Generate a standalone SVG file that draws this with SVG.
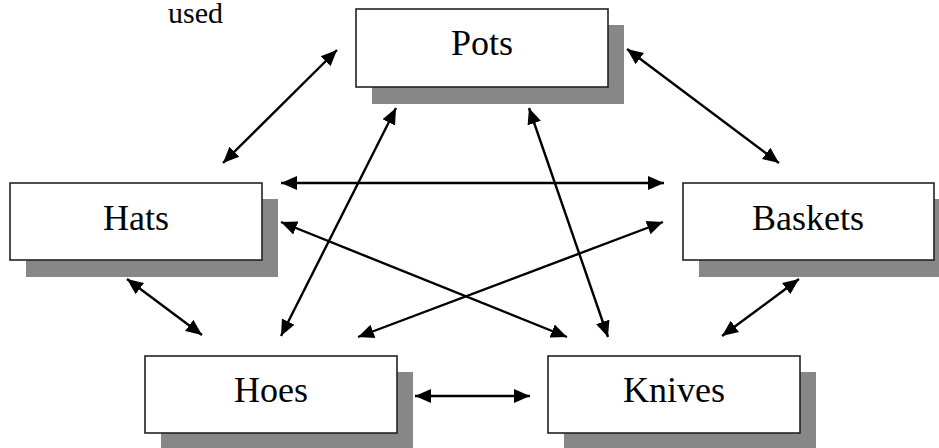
<svg xmlns="http://www.w3.org/2000/svg" width="939" height="448" viewBox="0 0 939 448">
  <style>
    .shadow { fill: #878787; }
    .box { fill: #ffffff; stroke: #222222; stroke-width: 1.6; }
    .label { font-family: 'Liberation Serif', 'Times New Roman', serif; font-size: 36px; fill: #000000; text-anchor: middle; }
    .note { font-family: 'Liberation Serif', 'Times New Roman', serif; font-size: 30px; fill: #000000; }
    .link { stroke: #000000; stroke-width: 2.4; fill: none; marker-start: url(#head); marker-end: url(#head); }
  </style>
  <defs>
    <!-- filled triangular arrowhead, tip at the line end -->
    <marker id="head" markerUnits="userSpaceOnUse" markerWidth="18" markerHeight="16" refX="16" refY="8" orient="auto-start-reverse" viewBox="0 0 18 16">
      <path d="M0,1 L16,8 L0,15 Z" fill="#000000"/>
    </marker>
  </defs>

  <rect width="939" height="448" fill="#ffffff"/>

  <text class="note" x="168" y="23">used</text>

  <g id="connectors">
    <line class="link" x1="223" y1="163" x2="337" y2="50"/>
    <line class="link" x1="627" y1="49" x2="779" y2="163"/>
    <line class="link" x1="281" y1="183" x2="664" y2="183"/>
    <line class="link" x1="281" y1="222" x2="567" y2="337"/>
    <line class="link" x1="663" y1="222" x2="358" y2="337"/>
    <line class="link" x1="396" y1="108" x2="281" y2="336"/>
    <line class="link" x1="529" y1="108" x2="608" y2="337"/>
    <line class="link" x1="127" y1="279" x2="202" y2="335"/>
    <line class="link" x1="799" y1="279" x2="722" y2="336"/>
    <line class="link" x1="415" y1="396" x2="530" y2="396"/>
  </g>

  <g id="pots">
    <rect class="shadow" x="372" y="25" width="252" height="79"/>
    <rect class="box" x="356" y="9" width="252" height="78"/>
    <text class="label" x="482" y="55">Pots</text>
  </g>

  <g id="hats">
    <rect class="shadow" x="26" y="199" width="252" height="78"/>
    <rect class="box" x="10" y="183" width="252" height="77"/>
    <text class="label" x="136" y="230">Hats</text>
  </g>

  <g id="baskets">
    <rect class="shadow" x="699" y="199" width="252" height="78"/>
    <rect class="box" x="683" y="183" width="251" height="77"/>
    <text class="label" x="808" y="230">Baskets</text>
  </g>

  <g id="hoes">
    <rect class="shadow" x="161" y="372" width="252" height="78"/>
    <rect class="box" x="145" y="356" width="252" height="77"/>
    <text class="label" x="271" y="402">Hoes</text>
  </g>

  <g id="knives">
    <rect class="shadow" x="564" y="372" width="252" height="78"/>
    <rect class="box" x="548" y="356" width="252" height="77"/>
    <text class="label" x="674" y="402">Knives</text>
  </g>
</svg>
